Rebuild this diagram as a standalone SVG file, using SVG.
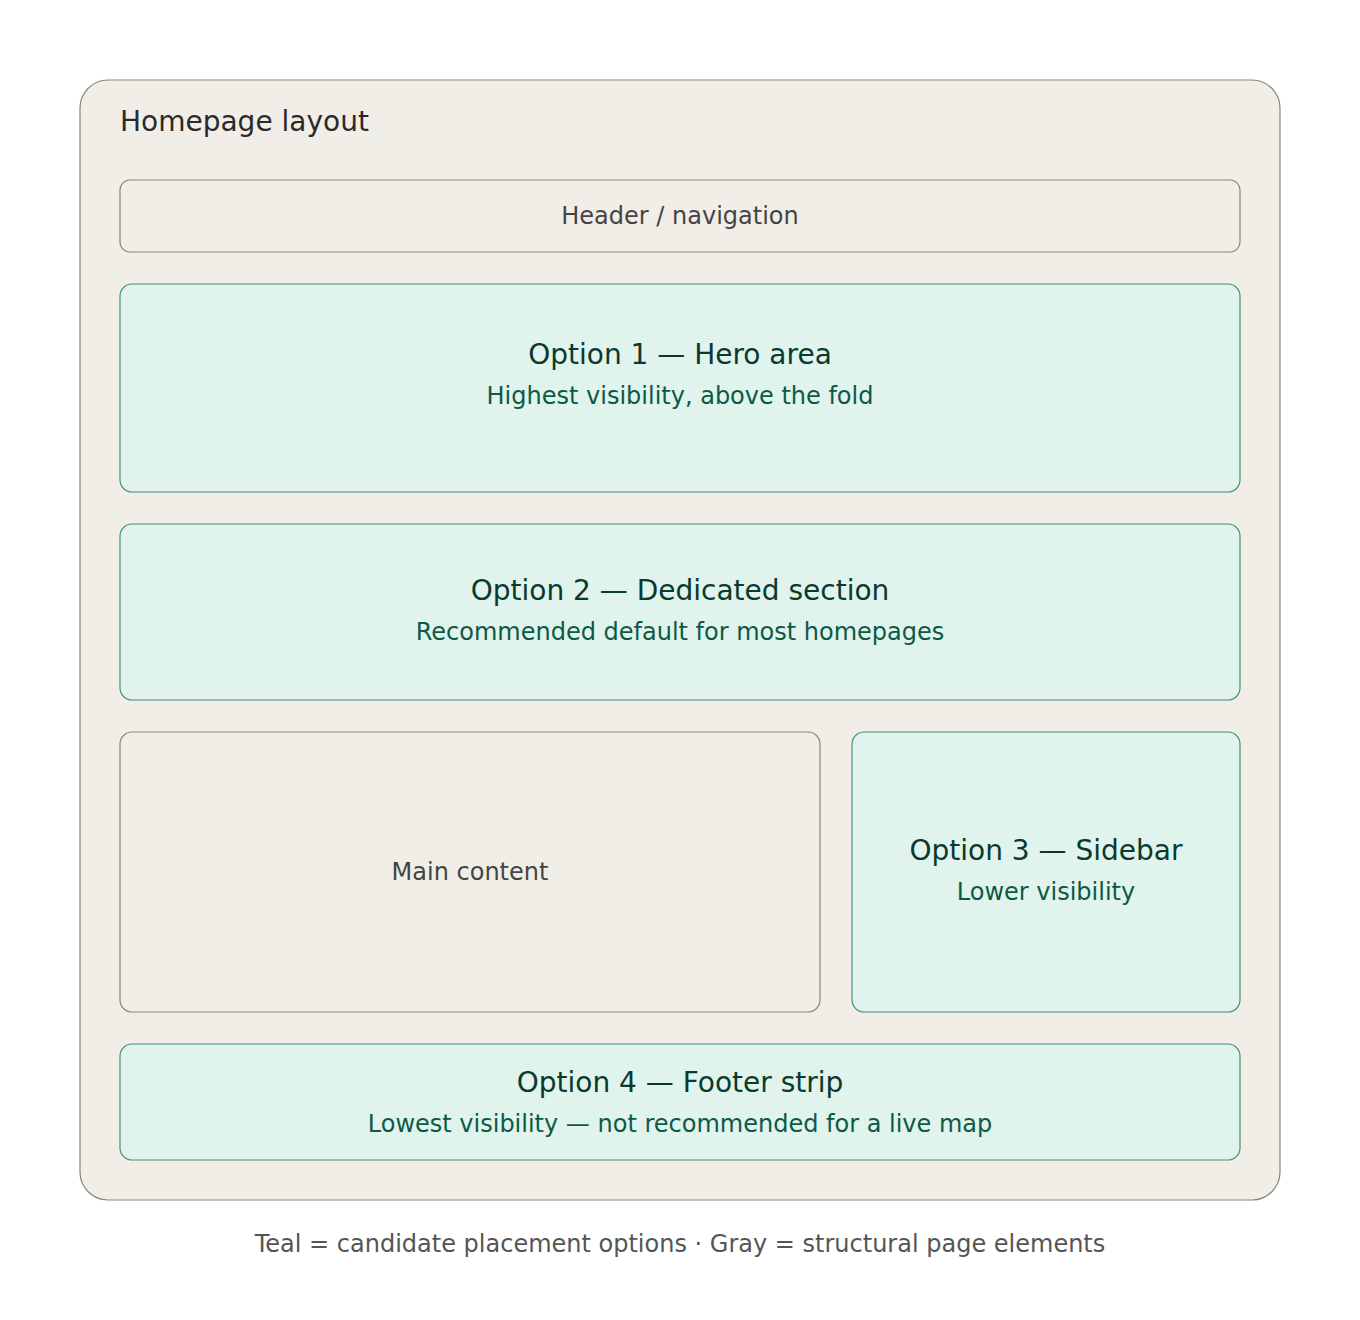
<svg xmlns="http://www.w3.org/2000/svg" width="1360" height="1320" viewBox="0 0 1360 1320">
<style>
text{font-family:"DejaVu Sans","Liberation Sans",sans-serif;text-anchor:middle}
.gray{fill:#f1eee8;stroke:#8a8580;stroke-width:1.2}
.teal{fill:#e0f3ec;stroke:#46927a;stroke-width:1.2}
.t{font-size:28px;fill:#0a3a2e}
.s{font-size:24px;fill:#0c5a45}
.g{font-size:24px;fill:#444}
</style>
<rect width="1360" height="1320" fill="#fff"/>
<g id="page">
<rect x="80" y="80" width="1200" height="1120" rx="28" class="gray"/>
<text x="120" y="131" style="font-size:28px;fill:#2a2a2a;text-anchor:start">Homepage layout</text>
</g>
<g id="header">
<rect x="120" y="180" width="1120" height="72" rx="10" class="gray"/>
<text x="680" y="224" class="g">Header / navigation</text>
</g>
<g id="option1">
<rect x="120" y="284" width="1120" height="208" rx="12" class="teal"/>
<text x="680" y="364" class="t">Option 1 — Hero area</text>
<text x="680" y="404" class="s">Highest visibility, above the fold</text>
</g>
<g id="option2">
<rect x="120" y="524" width="1120" height="176" rx="12" class="teal"/>
<text x="680" y="600" class="t">Option 2 — Dedicated section</text>
<text x="680" y="640" class="s">Recommended default for most homepages</text>
</g>
<g id="main">
<rect x="120" y="732" width="700" height="280" rx="12" class="gray"/>
<text x="470" y="880" class="g">Main content</text>
</g>
<g id="option3">
<rect x="852" y="732" width="388" height="280" rx="12" class="teal"/>
<text x="1046" y="860" class="t">Option 3 — Sidebar</text>
<text x="1046" y="900" class="s">Lower visibility</text>
</g>
<g id="option4">
<rect x="120" y="1044" width="1120" height="116" rx="12" class="teal"/>
<text x="680" y="1092" class="t">Option 4 — Footer strip</text>
<text x="680" y="1132" class="s">Lowest visibility — not recommended for a live map</text>
</g>
<g id="connectors"/>
<text x="680" y="1252" style="font-size:24px;fill:#555">Teal = candidate placement options · Gray = structural page elements</text>
</svg>
